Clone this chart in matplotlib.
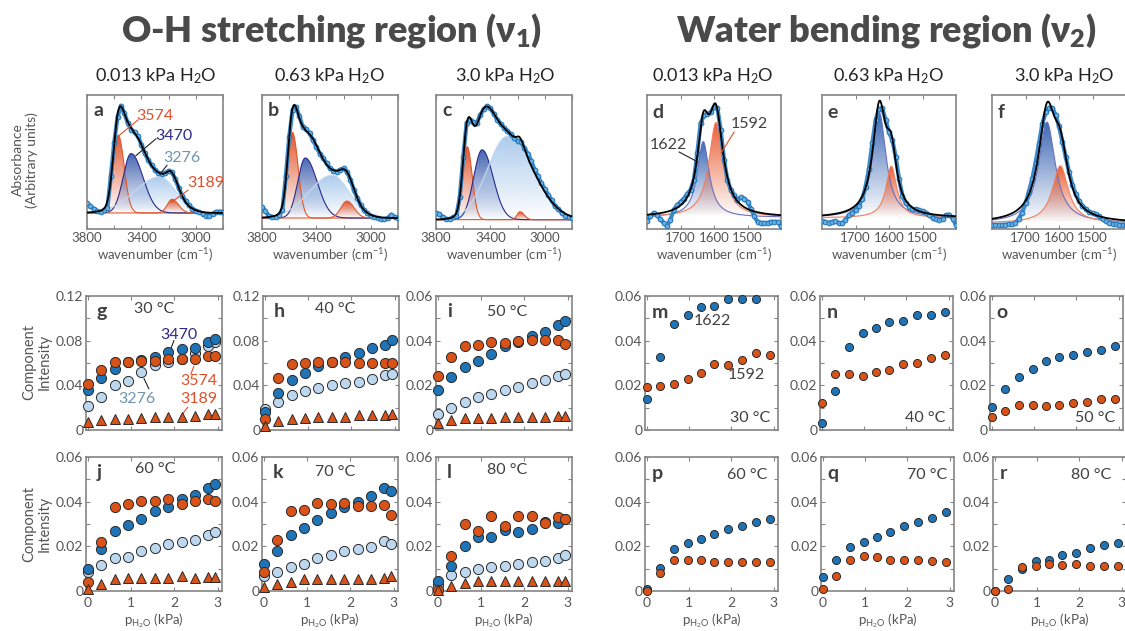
import numpy as np
import matplotlib
matplotlib.use('Agg')
import matplotlib.pyplot as plt
from matplotlib.colors import to_rgb

plt.rcParams['font.family'] = ['Lato', 'DejaVu Sans']
plt.rcParams['mathtext.default'] = 'regular'

W, H = 1125, 631
TXT = '#4a4a4a'
SPINE = '#858585'
BLUE = '#1f74b8'
ORANGE = '#d95319'
LIGHT = '#bdd7ee'

oh_nu = np.arange(3800, 2799, -25)
abs_a = [0.09, 0.06, 0.04, 0.015, 0.006, 0.025, 0.046, 0.34, 0.65, 0.89, 0.99, 0.92,
         0.83, 0.77, 0.745, 0.71, 0.63, 0.55, 0.49, 0.44, 0.40, 0.37, 0.36, 0.37,
         0.39, 0.375, 0.31, 0.23, 0.16, 0.11, 0.07, 0.04, 0.02, 0.006, -0.006,
         -0.025, -0.03, -0.006, 0.012, 0.012, 0.012]
abs_b = [0.10, 0.06, 0.02, 0.01, 0.006, 0.03, 0.07, 0.37, 0.72, 0.96, 0.985, 0.90,
         0.81, 0.785, 0.75, 0.69, 0.63, 0.57, 0.53, 0.485, 0.44, 0.42, 0.41, 0.43,
         0.44, 0.41, 0.34, 0.25, 0.18, 0.12, 0.07, 0.044, 0.02, 0.01, 0.0, -0.01,
         -0.01, 0.0, 0.03, 0.01, 0.0]
abs_c = [0.06, 0.05, 0.02, 0.006, 0.006, 0.02, 0.035, 0.20, 0.55, 0.85, 0.88, 0.86,
         0.85, 0.92, 0.97, 1.0, 0.98, 0.93, 0.88, 0.84, 0.81, 0.78, 0.75, 0.72,
         0.69, 0.68, 0.63, 0.58, 0.52, 0.44, 0.38, 0.32, 0.27, 0.22, 0.17, 0.12,
         0.09, 0.06, 0.035, 0.02, 0.012]

bend_nu = np.arange(1800, 1399, -10)
abs_d = [-0.03, 0.01, 0.04, 0.02, -0.015, -0.05, -0.08, -0.02, 0.07, 0.11, 0.14,
         0.17, 0.21, 0.25, 0.34, 0.58, 0.85, 0.92, 0.93, 0.95, 1.0, 0.99, 0.79,
         0.52, 0.34, 0.25, 0.20, 0.16, 0.18, 0.17, 0.14, 0.08, 0.01, -0.04, -0.05,
         -0.05, -0.05, -0.04, -0.04, -0.04, -0.08]
abs_e = [-0.03, -0.036, -0.045, -0.036, -0.03, -0.045, -0.05, -0.02, 0.024, 0.045,
         0.07, 0.11, 0.17, 0.28, 0.44, 0.67, 0.88, 0.98, 0.985, 0.88, 0.77, 0.70,
         0.55, 0.35, 0.20, 0.13, 0.10, 0.08, 0.08, 0.07, 0.06, 0.045, 0.024, 0.003,
         -0.006, -0.015, -0.006, 0.024, 0.03, -0.006, -0.066]
abs_f = [-0.015, -0.015, -0.015, -0.015, -0.012, -0.01, -0.008, 0.0, 0.04, 0.09,
         0.17, 0.27, 0.38, 0.52, 0.68, 0.85, 0.95, 0.99, 0.99, 0.93, 0.83, 0.70,
         0.57, 0.44, 0.33, 0.25, 0.19, 0.15, 0.12, 0.10, 0.085, 0.075, 0.06, 0.035,
         0.015, 0.003, -0.005, -0.01, -0.012, -0.012, -0.012]

# fitted components: 3574, 3470, 3276, 3189 (width toward high / low wavenumber)
oh_center = {'a': [3570, 3476, 3266, 3175], 'b': [3576, 3482, 3284, 3175],
             'c': [3571, 3461, 3274, 3182]}
oh_height = {'a': [0.716, 0.549, 0.334, 0.126], 'b': [0.758, 0.532, 0.380, 0.150],
             'c': [0.641, 0.614, 0.734, 0.07]}
oh_width_hi = {'a': [37, 58, 182, 35], 'b': [34, 55, 172, 45], 'c': [31, 62, 149, 22]}
oh_width_lo = {'a': [43, 87, 117, 47], 'b': [41, 87, 124, 52], 'c': [37, 81, 185, 30]}
# fitted components: 1622, 1592 (Lorentzian)
bend_center = {'d': [1632, 1594], 'e': [1629, 1593], 'f': [1636, 1596]}
bend_height = {'d': [0.684, 0.856], 'e': [0.948, 0.465], 'f': [0.867, 0.492]}
bend_hwhm = {'d': [21.4, 25.5], 'e': [24.0, 19.2], 'f': [30.0, 28.7]}

# ---------------- component intensities ----------------
p_oh = [0.013, 0.3, 0.62, 0.93, 1.24, 1.55, 1.86, 2.17, 2.48, 2.78, 2.93]
p_bend = [0.013, 0.31, 0.64, 0.97, 1.29, 1.6, 1.93, 2.26, 2.58, 2.9]

i3470 = {
    'g': [0.036, 0.047, 0.055, 0.0606, 0.0627, 0.0657, 0.0696, 0.0725, 0.0731, 0.079, 0.0815],
    'h': [0.016, 0.033, 0.045, 0.051, 0.057, 0.061, 0.065, 0.069, 0.073, 0.076, 0.081],
    'i': [0.0177, 0.0238, 0.0281, 0.031, 0.0342, 0.0374, 0.0394, 0.0419, 0.0437, 0.0468, 0.049],
    'j': [0.010, 0.0188, 0.0267, 0.0297, 0.0323, 0.0356, 0.0378, 0.041, 0.043, 0.046, 0.0477],
    'k': [0.012, 0.018, 0.025, 0.028, 0.032, 0.035, 0.0375, 0.040, 0.0425, 0.046, 0.045],
    'l': [0.0043, 0.0114, 0.020, 0.0244, 0.024, 0.0274, 0.0262, 0.0277, 0.031, 0.0304, 0.0321],
}
i3574 = {
    'g': [0.041, 0.054, 0.061, 0.061, 0.062, 0.062, 0.064, 0.064, 0.064, 0.066, 0.066],
    'h': [0.010, 0.047, 0.059, 0.060, 0.061, 0.061, 0.061, 0.060, 0.060, 0.060, 0.060],
    'i': [0.0241, 0.0325, 0.0374, 0.0382, 0.0392, 0.0389, 0.0397, 0.0404, 0.0404, 0.0404, 0.0385],
    'j': [0.0042, 0.0218, 0.0375, 0.039, 0.0405, 0.0405, 0.041, 0.039, 0.0405, 0.0413, 0.0405],
    'k': [0.0084, 0.023, 0.036, 0.0363, 0.0393, 0.0388, 0.0393, 0.0382, 0.0382, 0.0385, 0.034],
    'l': [0.0003, 0.0156, 0.0299, 0.027, 0.0336, 0.0289, 0.0336, 0.0336, 0.0304, 0.0333, 0.0321],
}
i3276 = {
    'g': [0.0215, 0.030, 0.040, 0.044, 0.052, 0.058, 0.0606, 0.064, 0.069, 0.075, 0.079],
    'h': [0.019, 0.025, 0.031, 0.035, 0.038, 0.040, 0.042, 0.043, 0.046, 0.049, 0.050],
    'i': [0.007, 0.010, 0.0126, 0.0147, 0.0162, 0.0177, 0.0193, 0.0211, 0.0223, 0.0241, 0.0251],
    'j': [0.0087, 0.0117, 0.0147, 0.0153, 0.018, 0.0192, 0.021, 0.0218, 0.023, 0.025, 0.0262],
    'k': [0.0067, 0.0084, 0.0107, 0.0119, 0.0148, 0.0159, 0.0178, 0.019, 0.0197, 0.0225, 0.021],
    'l': [0.0025, 0.0073, 0.0087, 0.0099, 0.0107, 0.0114, 0.0121, 0.0129, 0.0136, 0.0148, 0.0161],
}
i3189 = {
    'g': [0.0075, 0.009, 0.010, 0.010, 0.011, 0.0115, 0.0115, 0.012, 0.0125, 0.014, 0.0143],
    'h': [0.004, 0.008, 0.010, 0.011, 0.012, 0.012, 0.012, 0.013, 0.013, 0.013, 0.014],
    'i': [0.0033, 0.0046, 0.0052, 0.0052, 0.0055, 0.0058, 0.0059, 0.0059, 0.0059, 0.0062, 0.0062],
    'j': [0.0007, 0.003, 0.0052, 0.0057, 0.0057, 0.0057, 0.006, 0.0067, 0.006, 0.0063, 0.0063],
    'k': [0.0019, 0.003, 0.0041, 0.0052, 0.0052, 0.0052, 0.0052, 0.0052, 0.0055, 0.0058, 0.0065],
    'l': [0.0003, 0.0022, 0.0037, 0.0043, 0.0043, 0.0043, 0.0043, 0.0043, 0.0043, 0.0043, 0.0043],
}
i1622 = {
    'm': [0.0139, 0.0327, 0.0475, 0.0516, 0.055, 0.0553, 0.0585, 0.0588, 0.0585, np.nan],
    'n': [0.003, 0.0173, 0.0372, 0.0433, 0.0458, 0.0485, 0.0488, 0.0513, 0.0516, 0.0529],
    'o': [0.0101, 0.0185, 0.0238, 0.0273, 0.0308, 0.0326, 0.0336, 0.035, 0.036, 0.0377],
    'p': [0.0008, 0.0103, 0.0187, 0.0213, 0.0231, 0.0254, 0.0278, 0.0292, 0.0307, 0.0322],
    'q': [0.0061, 0.014, 0.0197, 0.022, 0.0243, 0.0264, 0.0289, 0.0307, 0.0327, 0.0354],
    'r': [0.0002, 0.0052, 0.010, 0.0133, 0.014, 0.0163, 0.0172, 0.0192, 0.0205, 0.0215],
}
i1592 = {
    'm': [0.0191, 0.0196, 0.0204, 0.0228, 0.0256, 0.0294, 0.0291, 0.0312, 0.0345, 0.0335],
    'n': [0.012, 0.0249, 0.0249, 0.0241, 0.0261, 0.0267, 0.0297, 0.030, 0.0321, 0.0336],
    'o': [0.0058, 0.0087, 0.0114, 0.011, 0.0107, 0.011, 0.0123, 0.0126, 0.0137, 0.0137],
    'p': [0.0001, 0.0081, 0.0137, 0.0137, 0.0141, 0.0129, 0.0129, 0.0129, 0.0129, 0.0132],
    'q': [0.0008, 0.0068, 0.014, 0.0155, 0.0152, 0.0141, 0.0137, 0.0137, 0.0134, 0.0129],
    'r': [0.0002, 0.001, 0.0108, 0.011, 0.0121, 0.0115, 0.0121, 0.011, 0.011, 0.0112],
}
temps = {'g': '30 °C', 'h': '40 °C', 'i': '50 °C', 'j': '60 °C', 'k': '70 °C', 'l': '80 °C',
         'm': '30 °C', 'n': '40 °C', 'o': '50 °C', 'p': '60 °C', 'q': '70 °C', 'r': '80 °C'}
pressures = ['0.013 kPa H$_2$O', '0.63 kPa H$_2$O', '3.0 kPa H$_2$O']

fig = plt.figure(figsize=(W / 100, H / 100), dpi=100)


def box(x0, y0, w, h):
    return fig.add_axes([x0 / W, 1 - (y0 + h) / H, w / W, h / H])


def style(ax):
    for s in ax.spines.values():
        s.set_color(SPINE)
        s.set_linewidth(1.2)
    ax.tick_params(which='both', direction='in', color=SPINE, labelcolor='#555555',
                   labelsize=9.5, top=True, right=True, length=3, width=0.8, pad=2)


def letter(ax, s, x=0.05, y=0.95):
    ax.text(x, y, s, transform=ax.transAxes, fontsize=14, fontweight='bold',
            color='#404040', ha='left', va='top', zorder=10)


def gauss(x, c, h, whi, wlo):
    w = np.where(x > c, whi, wlo)
    return h * np.exp(-(x - c) ** 2 / (2.0 * w ** 2))


def lorentz(x, c, h, hw):
    return h / (1 + ((x - c) / hw) ** 2)


def grad_fill(ax, x, y, color, top=0.95):
    poly = ax.fill_between(x, 0, y, facecolor='none', edgecolor='none')
    img = np.zeros((100, 1, 4))
    img[..., :3] = to_rgb(color)
    img[..., 3] = np.linspace(0.0, top, 100)[:, None]
    im = ax.imshow(img, origin='lower', aspect='auto', interpolation='bilinear',
                   extent=(x.max(), x.min(), 0, y.max()), zorder=2)
    im.set_clip_path(poly.get_paths()[0], transform=ax.transData)


def spectrum(ax, nu, meas, fine, comps, fills, lines, xlim, ylim, ticks, minor):
    for y, fc, lc in zip(comps, fills, lines):
        grad_fill(ax, fine, y, fc)
        ax.plot(fine, y, color=lc, lw=0.8, zorder=3)
    ax.plot(nu, meas, '-', color='#3a8bcc', lw=3.0, zorder=4, solid_capstyle='round')
    ax.plot(nu, meas, 'o', ms=3.4, mfc='#6aaee0', mec='#1f74b8', mew=0.7, zorder=4)
    ax.plot(fine, np.sum(comps, axis=0), color='k', lw=1.3, zorder=5)
    ax.set_xlim(*xlim)
    ax.set_ylim(*ylim)
    ax.set_xticks(ticks)
    ax.set_xticks(minor, minor=True)
    ax.set_yticks([])
    style(ax)
    ax.set_xlabel('wavenumber (cm$^{-1}$)', fontsize=9.5, color='#555555', labelpad=2)


# ---------------- O-H spectra ----------------
oh_fine = np.linspace(3800, 2800, 500)
oh_fills = ['#e04e23', '#3d5fae', '#a9c9ec', '#e04e23']
oh_lines = ['#e2572b', '#2b2a8c', '#c5dbf0', '#e2572b']
oh_ylim = {'a': (-0.148, 1.09), 'b': (-0.097, 1.09), 'c': (-0.082, 1.096)}
oh_meas = {'a': abs_a, 'b': abs_b, 'c': abs_c}
oh_axes = {}
for key, x0 in zip('abc', [87, 262, 436]):
    ax = box(x0, 95, 136, 134)
    comps = [gauss(oh_fine, c, h, whi, wlo) for c, h, whi, wlo in
             zip(oh_center[key], oh_height[key], oh_width_hi[key], oh_width_lo[key])]
    spectrum(ax, oh_nu, oh_meas[key], oh_fine, comps, oh_fills, oh_lines,
             (3800, 2800), oh_ylim[key], [3800, 3400, 3000], [3600, 3200, 2800])
    letter(ax, key, 0.045, 0.95)
    oh_axes[key] = ax

ax = oh_axes['a']
ann = dict(fontsize=11.5, ha='left', va='center', zorder=11)
ax.text(3440, 0.90, '3574', color='#e0502a', **ann)
ax.plot([3425, 3580], [0.86, 0.70], color='#e0502a', lw=0.8, zorder=11)
ax.text(3300, 0.71, '3470', color='#2e2a8a', **ann)
ax.plot([3293, 3440], [0.685, 0.53], color='#222222', lw=0.8, zorder=11)
ax.text(3241, 0.51, '3276', color='#6f94b0', **ann)
ax.plot([3212, 3263], [0.44, 0.36], color='#222222', lw=0.8, zorder=11)
ax.text(3065, 0.28, '3189', color='#e0502a', **ann)
ax.plot([3057, 3180], [0.21, 0.10], color='#e0502a', lw=0.8, zorder=11)

# ---------------- bending spectra ----------------
bend_fine = np.linspace(1800, 1400, 500)
bend_fills = ['#3160b0', '#e8582c']
bend_lines = ['#6b6fc0', '#f08060']
bend_ylim = {'d': (-0.105, 1.105), 'e': (-0.10, 1.105), 'f': (-0.05, 1.10)}
bend_meas = {'d': abs_d, 'e': abs_e, 'f': abs_f}
bend_axes = {}
for key, x0 in zip('def', [647, 822, 992]):
    ax = box(x0, 95, 134, 134)
    comps = [lorentz(bend_fine, c, h, hw) for c, h, hw in
             zip(bend_center[key], bend_height[key], bend_hwhm[key])]
    spectrum(ax, bend_nu, bend_meas[key], bend_fine, comps, bend_fills, bend_lines,
             (1800, 1400), bend_ylim[key], [1700, 1600, 1500], [])
    letter(ax, key, 0.04, 0.93)
    bend_axes[key] = ax

ax = bend_axes['d']
ax.text(1549, 0.84, '1592', color='#404040', **ann)
ax.plot([1540, 1579], [0.77, 0.58], color='#e0502a', lw=0.8, zorder=11)
ax.text(1791, 0.65, '1622', color='#404040', **ann)
ax.plot([1704, 1648], [0.59, 0.50], color='#222222', lw=0.8, zorder=11)


# ---------------- intensity panels ----------------
def intensity(ax, key, series, ymax, xlabels):
    for p, y, m, fc, ms in series:
        ax.plot(p, y, m, ms=ms, mfc=fc, mec='#2a2a2a', mew=0.7, ls='none',
                clip_on=False, zorder=3)
    ax.set_xlim(-0.04, 3.1)
    ax.set_ylim(0, ymax)
    ax.set_xticks([0, 1, 2, 3])
    if ymax > 0.1:
        ax.set_yticks([0, 0.04, 0.08, 0.12], ['0', '0.04', '0.08', '0.12'])
        ax.set_yticks([0.02, 0.06, 0.10], minor=True)
    else:
        ax.set_yticks([0, 0.02, 0.04, 0.06], ['0', '0.02', '0.04', '0.06'])
        ax.set_yticks([0.01, 0.03, 0.05], minor=True)
    style(ax)
    ax.tick_params(axis='y', labelsize=10)
    if xlabels:
        ax.tick_params(axis='x', labelsize=10, pad=4)
        ax.set_xlabel('p$_{H_2O}$ (kPa)', fontsize=9.5, color='#555555', labelpad=2)
    else:
        ax.set_xticklabels([])


oh_pos = {'g': (86, 296), 'h': (263, 296), 'i': (436, 296),
          'j': (86, 457), 'k': (262, 457), 'l': (436, 457)}
oh_ymax = {'g': 0.12, 'h': 0.12, 'i': 0.06, 'j': 0.06, 'k': 0.06, 'l': 0.06}
oh_temp_xy = {'g': (0.5, 0.9), 'h': (0.53, 0.9), 'i': (0.52, 0.88),
              'j': (0.51, 0.91), 'k': (0.54, 0.89), 'l': (0.52, 0.9)}
int_axes = {}
for key in 'ghijkl':
    x0, y0 = oh_pos[key]
    ax = box(x0, y0, 136, 134)
    series = [(p_oh, i3276[key], 'o', LIGHT, 7.3),
              (p_oh, i3470[key], 'o', BLUE, 7.3),
              (p_oh, i3574[key], 'o', ORANGE, 7.3),
              (p_oh, i3189[key], '^', ORANGE, 7.3)]
    intensity(ax, key, series, oh_ymax[key], key in 'jkl')
    letter(ax, key, 0.08, 0.95)
    tx, ty = oh_temp_xy[key]
    ax.text(tx, ty, temps[key], transform=ax.transAxes, fontsize=11.5,
            color='#404040', ha='center', va='center')
    int_axes[key] = ax

ax = int_axes['g']
ann2 = dict(fontsize=11.5, ha='center', va='center', zorder=11)
ax.text(2.1, 0.085, '3470', color='#2e2a8a', **ann2)
ax.plot([1.99, 1.92], [0.08, 0.073], color='#222222', lw=0.8)
ax.text(2.57, 0.0436, '3574', color='#e0502a', **ann2)
ax.plot([2.45, 2.38], [0.057, 0.05], color='#e0502a', lw=0.8)
ax.text(1.13, 0.0276, '3276', color='#6f94b0', **ann2)
ax.plot([1.3, 1.41], [0.046, 0.037], color='#222222', lw=0.8)
ax.text(2.57, 0.0276, '3189', color='#e0502a', **ann2)
ax.plot([2.31, 2.2], [0.0204, 0.015], color='#e0502a', lw=0.8)

bend_pos = {'m': (645, 296), 'n': (820, 296), 'o': (990, 296),
            'p': (645, 457), 'q': (821, 457), 'r': (993, 457)}
bend_temp_xy = {'m': (0.94, 0.04, 'bottom'), 'n': (0.94, 0.04, 'bottom'),
                'o': (0.94, 0.04, 'bottom'), 'p': (0.92, 0.92, 'top'),
                'q': (0.95, 0.92, 'top'), 'r': (0.89, 0.92, 'top')}
for key in 'mnopqr':
    x0, y0 = bend_pos[key]
    ax = box(x0, y0, 133, 134)
    series = [(p_bend, i1622[key], 'o', BLUE, 5.8),
              (p_bend, i1592[key], 'o', ORANGE, 5.8)]
    intensity(ax, key, series, 0.06, key in 'pqr')
    letter(ax, key, 0.05, 0.94)
    tx, ty, va = bend_temp_xy[key]
    ax.text(tx, ty, temps[key], transform=ax.transAxes, fontsize=11.5,
            color='#404040', ha='right', va=va)
    int_axes[key] = ax

ax = int_axes['m']
ax.text(1.55, 0.049, '1622', color='#404040', **ann2)
ax.text(2.35, 0.0248, '1592', color='#404040', **ann2)

# ---------------- titles and shared labels ----------------
fig.text(332 / W, 1 - 30 / H, 'O-H stretching region ($\\nu_1$)', fontsize=26,
         fontweight='heavy', color=TXT, ha='center', va='center')
fig.text(886 / W, 1 - 30 / H, 'Water bending region ($\\nu_2$)', fontsize=26,
         fontweight='heavy', color=TXT, ha='center', va='center')
for xc, s in zip([156, 329, 505], pressures):
    fig.text(xc / W, 1 - 76 / H, s, fontsize=13, color='#222222', ha='center', va='center')
for xc, s in zip([713, 888, 1064], pressures):
    fig.text(xc / W, 1 - 76 / H, s, fontsize=13, color='#222222', ha='center', va='center')

fig.text(25 / W, 1 - 160 / H, 'Absorbance\n(Arbitrary units)', rotation=90, fontsize=10,
         color='#555555', ha='center', va='center', linespacing=1.1)
for yc in [362, 524]:
    fig.text(37 / W, 1 - yc / H, 'Component\nIntensity', rotation=90, fontsize=10.5,
             color='#555555', ha='center', va='center', linespacing=1.1)

fig.savefig('out.png', dpi=100, facecolor='white')
